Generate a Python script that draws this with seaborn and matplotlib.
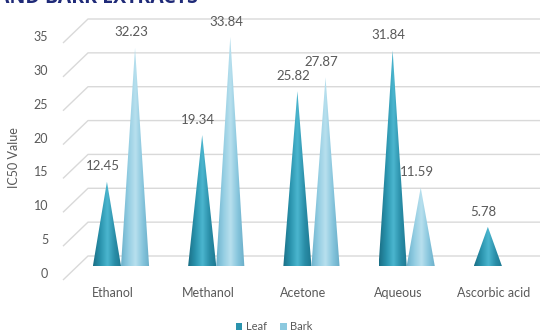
import numpy as np
import pandas as pd
import matplotlib
matplotlib.use("Agg")
import matplotlib.pyplot as plt
import seaborn as sns
from matplotlib.patches import Polygon, Patch
from matplotlib.transforms import ScaledTranslation
from matplotlib.colors import LinearSegmentedColormap

# ---- data ----
categories = ["Ethanol", "Methanol", "Acetone", "Aqueous", "Ascorbic acid"]
leaf = [12.45, 19.34, 25.82, 31.84, 5.78]
bark = [32.23, 33.84, 27.87, 11.59, np.nan]
series = ["Leaf", "Bark"]
yticks = [0, 5, 10, 15, 20, 25, 30, 35]

df = pd.DataFrame({
    "Solvent": categories * 2,
    "Part": ["Leaf"] * len(categories) + ["Bark"] * len(categories),
    "IC50": leaf + bark,
})

sns.set_theme(style="white")
plt.rcParams["font.family"] = ["Lato", "DejaVu Sans"]

TXT = "#595959"
GRID = "#d9d9d9"
cmaps = {
    "Leaf": LinearSegmentedColormap.from_list(
        "leaf", ["#1a6f86", "#2a93ad", "#4bb6cf", "#2a8ea8", "#1c7790"]),
    "Bark": LinearSegmentedColormap.from_list(
        "bark", ["#6cb2cc", "#93cde2", "#b8e0ee", "#88c6dd", "#68adc8"]),
}
palette = {"Leaf": "#2a93ad", "Bark": "#8cc9df"}

fig = plt.figure(figsize=(5.44, 3.36), dpi=100)
W, H = 544, 336
ax = fig.add_axes([65 / W, (H - 266) / H, 475 / W, (266 - 29) / H])
ax.patch.set_alpha(0)
ax.set_zorder(2)

sns.barplot(data=df, x="Solvent", y="IC50", hue="Part", hue_order=series,
            order=categories, palette=palette, width=0.59, saturation=1,
            ax=ax, legend=False)
ax.set_xlim(-0.588, 4.40)
ax.set_ylim(0, 35)

# replace bars by shaded cones
for name, cont in zip(series, ax.containers):
    cmap = cmaps[name]
    for p in cont.patches:
        h = p.get_height()
        p.set_visible(False)
        if h is None or np.isnan(h) or h <= 0:
            continue
        x0 = p.get_x()
        w = p.get_width()
        xc = x0 + w / 2
        t = np.linspace(np.pi, 2 * np.pi, 30)
        arc = np.column_stack([xc + (w / 2) * np.cos(t), 0.3 * np.sin(t)])
        verts = np.vstack([[xc, h], [x0, 0], arc, [x0 + w, 0]])
        poly = Polygon(verts, closed=True, transform=ax.transData,
                       facecolor="none", edgecolor="none")
        ax.add_patch(poly)
        grad = np.linspace(0, 1, 64).reshape(1, -1)
        im = ax.imshow(grad, cmap=cmap, extent=[x0, x0 + w, -0.4, h], aspect="auto",
                       origin="lower", zorder=3, interpolation="bilinear")
        im.set_clip_path(poly)
        ax.annotate(f"{h:.2f}", (xc, h), xytext=(-3, 11), textcoords="offset points",
                    ha="center", va="center", fontsize=9.5, color=TXT,
                    annotation_clip=False)

ax.set_xlim(-0.588, 4.40)
ax.set_ylim(0, 35)
ax.set_yticks(yticks)
ax.set_yticklabels([str(v) for v in yticks])
ax.tick_params(axis="y", length=0, pad=12, labelsize=9, labelcolor=TXT)
ax.tick_params(axis="x", length=0, pad=15, labelsize=9, labelcolor=TXT)
for lab in ax.get_yticklabels():
    lab.set_transform(lab.get_transform() + ScaledTranslation(0, -7 / 100, fig.dpi_scale_trans))
for lab in ax.get_xticklabels():
    lab.set_transform(lab.get_transform() + ScaledTranslation(-8 / 100, 0, fig.dpi_scale_trans))
for s in ax.spines.values():
    s.set_visible(False)
ax.grid(False)
ax.set_xlabel("")
ax.set_ylabel("IC50 Value", fontsize=9, color=TXT, labelpad=4)
ax.yaxis.set_label_coords(-(65 - 20) / 475, (266 - 158) / (266 - 29))

# 3D-like gridlines on an overlay (pixel coords)
bg = fig.add_axes([0, 0, 1, 1])
bg.set_zorder(1)
bg.set_xlim(0, W)
bg.set_ylim(0, H)
bg.axis("off")
fig.canvas.draw()
for v in yticks:
    _, yd = ax.transData.transform((0, v))
    bg.plot([63, 88, 540], [yd - 14, yd + 10, yd + 10], color=GRID, lw=1.0,
            solid_capstyle="butt")

# legend
handles = [Patch(facecolor=palette[s], edgecolor="none", label=s) for s in series]
fig.legend(handles=handles, loc="center", bbox_to_anchor=(274 / W, 1 - 327 / H),
           ncol=2, frameon=False, fontsize=8, handlelength=0.6, handleheight=0.6,
           handletextpad=0.3, columnspacing=1.2, labelcolor=TXT)

# cut-off title fragment at the top
fig.text(-4 / W, 1 + 2 / H, "AND BARK EXTRACTS", ha="left", va="center",
         fontsize=14, fontweight="bold", color="#1f2a78", family=["Open Sans", "DejaVu Sans"])

fig.savefig("out.png", dpi=100)
